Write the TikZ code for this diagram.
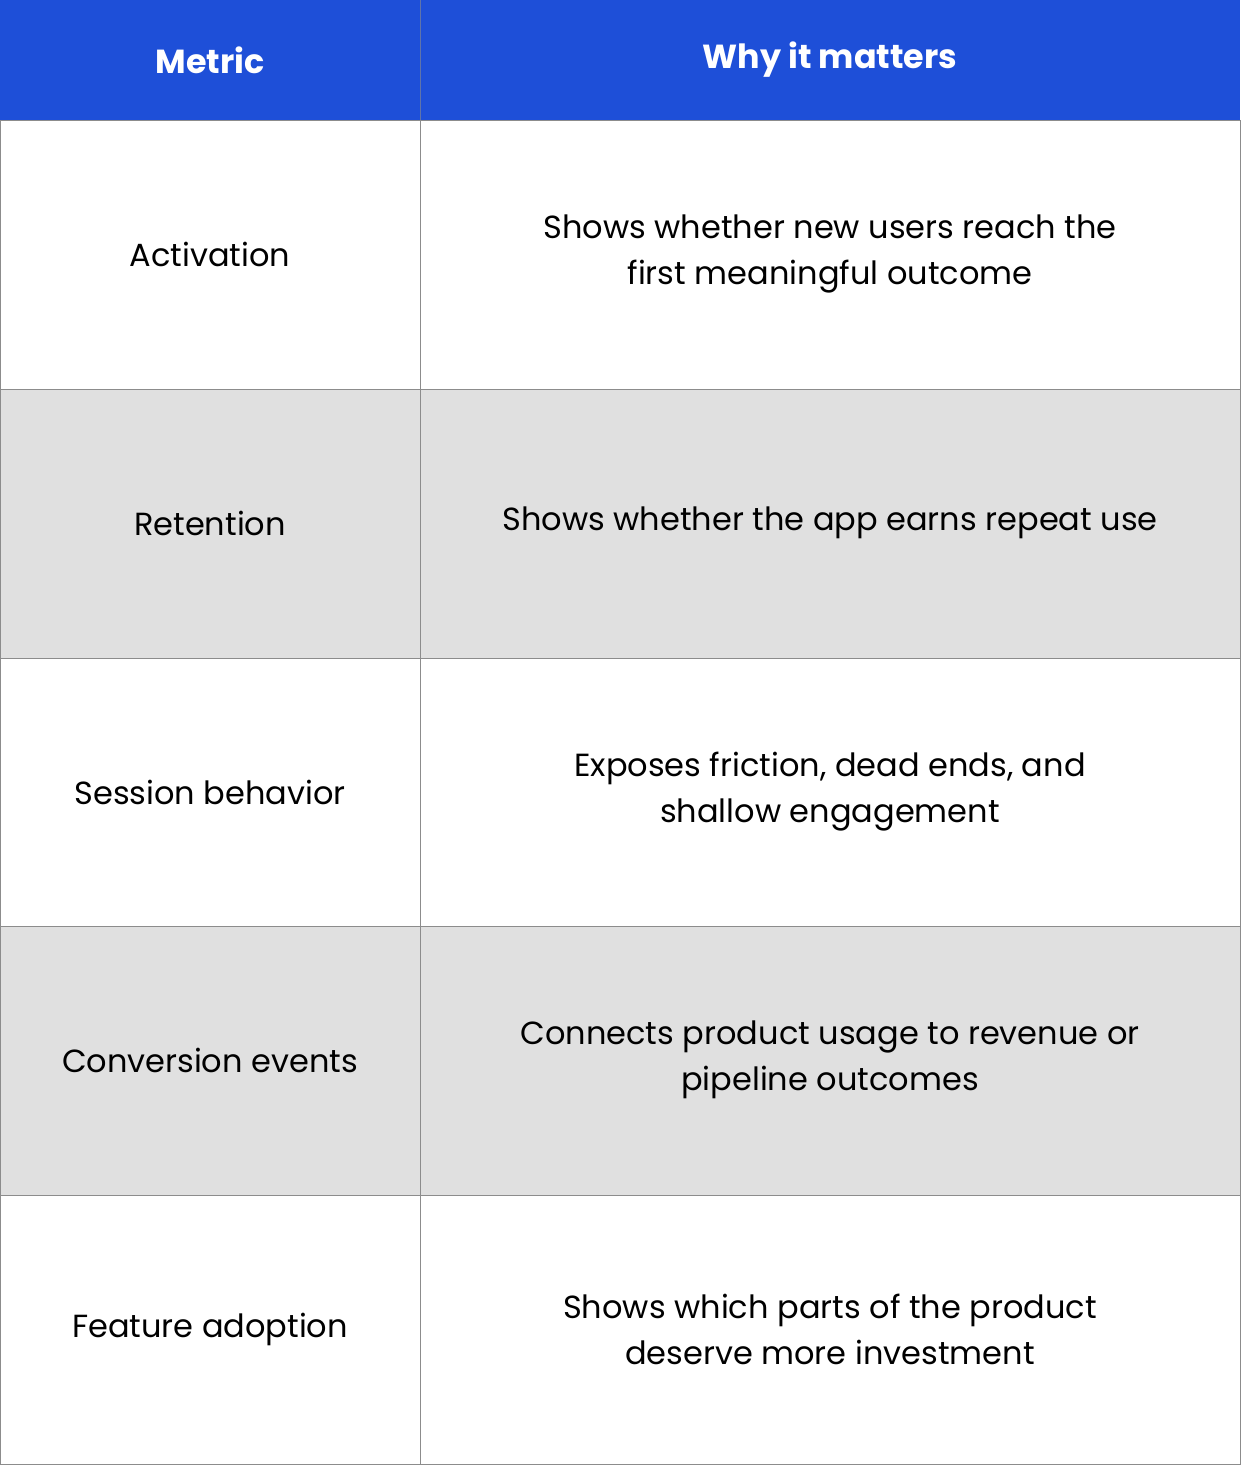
\documentclass[tikz,border=0pt]{standalone}
\usepackage{fontspec}
\setmainfont{Poppins}
\definecolor{hdblue}{HTML}{1E4FD8}
\definecolor{rowgray}{HTML}{E0E0E0}
\definecolor{rule}{HTML}{8C8C8C}
\tikzset{
  cell/.style={font=\fontsize{24}{34.5}\selectfont, align=center, text=black},
  head/.style={font=\fontsize{25}{30}\selectfont\bfseries, text=white}
}
\begin{document}
\begin{tikzpicture}[x=0.75pt, y=-0.75pt]
\useasboundingbox (0,0) rectangle (1240,1465);
% header band
\fill [hdblue] (0,0) rectangle (1240,120);
\draw [rule!60!hdblue, line width=0.75pt] (420,0) -- (420,120);
\node [head] (metric) at (210,60) {Metric};
\node [head] (why) at (830,60) {Why it matters};
% row shading
\fill [rowgray] (0,389) rectangle (1240,658);
\fill [rowgray] (0,926) rectangle (1240,1195);
% grid
\draw [rule, line width=0.75pt]
(0,120) rectangle (1240,1464)
(420,120) -- (420,1464)
(0,389) -- (1240,389)
(0,658) -- (1240,658)
(0,926) -- (1240,926)
(0,1195) -- (1240,1195);
% left column
\node [cell] (act) at (210,254) {Activation};
\node [cell] (ret) at (210,523) {Retention};
\node [cell] (ses) at (210,792) {Session behavior};
\node [cell] (con) at (210,1060) {Conversion events};
\node [cell] (fea) at (210,1329) {Feature adoption};
% right column
\node [cell] (act why) at (830,254) {Shows whether new users reach the\\first meaningful outcome};
\node [cell] (ret why) at (830,523) {Shows whether the app earns repeat use};
\node [cell] (ses why) at (830,792) {Exposes friction, dead ends, and\\shallow engagement};
\node [cell] (con why) at (830,1060) {Connects product usage to revenue or\\pipeline outcomes};
\node [cell] (fea why) at (830,1329) {Shows which parts of the product\\deserve more investment};
\end{tikzpicture}
\end{document}
